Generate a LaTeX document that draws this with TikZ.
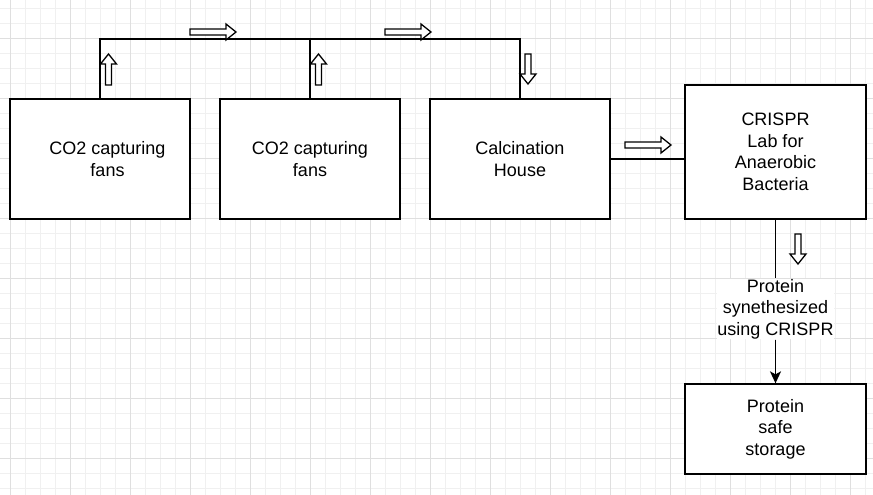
\documentclass[tikz,border=0pt]{standalone}
\usepackage{fontspec}
\setmainfont{Liberation Sans}
\usetikzlibrary{arrows.meta}

\tikzset{
  box/.style={draw, line width=1.3pt, fill=white, minimum width=180pt, minimum height=120pt,
    align=center, font=\fontsize{18}{21.6}\selectfont},
  wire/.style={line width=1.3pt},
  hollow/.style={draw, line width=1.3pt, fill=white},
  pics/flowarrow/.style={code={
    \path[hollow] (0,-3) -- (#1-10,-3) -- (#1-10,-8) -- (#1,0) -- (#1-10,8) -- (#1-10,3) -- (0,3) -- cycle;}},
}

\begin{document}
\begin{tikzpicture}[x=1pt, y=-1pt]
\useasboundingbox (0,0) rectangle (873,495);
\fill[white] (0,0) rectangle (873,495);

% grid
\foreach \x in {-5,10,...,873} \draw[gray!12, line width=0.8pt] (\x,0) -- (\x,495);
\foreach \y in {8,23,...,495} \draw[gray!12, line width=0.8pt] (0,\y) -- (873,\y);
\foreach \x in {10,70,...,873} \draw[gray!25, line width=0.8pt] (\x,0) -- (\x,495);
\foreach \y in {38,98,...,495} \draw[gray!25, line width=0.8pt] (0,\y) -- (873,\y);

% boxes
\node[box, label={[align=center, font=\fontsize{18}{21.6}\selectfont, xshift=7.5pt]center:CO2 capturing\\fans}] (fan1) at (100,159) {};
\node[box] (fan2) at (310,159) {CO2 capturing\\fans};
\node[box] (calc) at (520,159) {Calcination\\House};
\node[box, minimum width=181pt, minimum height=134pt] (crispr) at (775.5,152) {CRISPR\\Lab for\\Anaerobic\\Bacteria};
\node[box, minimum width=181pt, minimum height=90pt] (store) at (775.5,429) {Protein\\safe\\storage};
\node[fill=white, align=center, inner sep=0.5pt, font=\fontsize{18}{21.6}\selectfont] (synth) at (775.5,309) {Protein\\synethesized\\using CRISPR};

% connectors
\coordinate (bus) at (0,39);
\draw[wire] (fan1.north) |- (bus -| calc.north) -- (calc.north);
\draw[wire] (fan2.north) -- (fan2.north |- bus);
\draw[wire] (calc.east) -- (crispr.west |- calc.east);
\draw[wire] (crispr.south) -- (synth.north);
\draw[wire, -{Stealth[length=12pt, width=11pt, inset=3pt]}] (synth.south) -- (store.north);

% hollow flow arrows
\pic[rotate=90] (up1) at (108.5,85) {flowarrow=31};
\pic (right1) at (190,32) {flowarrow=46};
\pic[rotate=90] (up2) at (318.5,85) {flowarrow=31};
\pic (right2) at (385,32) {flowarrow=46};
\pic[rotate=-90] (down1) at (528,54) {flowarrow=30};
\pic (right3) at (625,145) {flowarrow=46};
\pic[rotate=-90] (down2) at (798,234) {flowarrow=30};
\end{tikzpicture}
\end{document}
